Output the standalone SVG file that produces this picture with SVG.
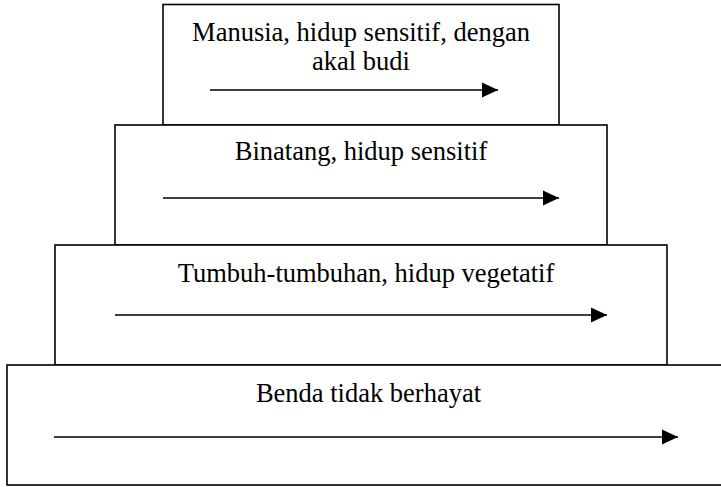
<svg xmlns="http://www.w3.org/2000/svg" width="721" height="487" viewBox="0 0 721 487">
  <defs>
    <marker id="ah" markerUnits="userSpaceOnUse" markerWidth="16" markerHeight="16" viewBox="0 0 16 16" refX="16" refY="8" orient="auto">
      <path d="M0,0.5 L16,8 L0,15.5 Z" fill="#000"/>
    </marker>
    <style>
      .box { fill: #fff; stroke: #000; stroke-width: 1.6; }
      .lbl { font-family: "Liberation Serif", "Times New Roman", serif; font-size: 26.5px; fill: #000; text-anchor: middle; }
      .arr { stroke: #000; stroke-width: 1.6; fill: none; marker-end: url(#ah); }
    </style>
  </defs>
  <rect width="721" height="487" fill="#fff"/>
  <g id="node-manusia">
    <rect class="box" x="163" y="4.5" width="396" height="120.5"/>
    <text class="lbl" x="361" y="40.5">Manusia, hidup sensitif, dengan</text>
    <text class="lbl" x="361" y="70">akal budi</text>
  </g>
  <g id="node-binatang">
    <rect class="box" x="115" y="125" width="492" height="120"/>
    <text class="lbl" x="361" y="160">Binatang, hidup sensitif</text>
  </g>
  <g id="node-tumbuhan">
    <rect class="box" x="55" y="245" width="612" height="120"/>
    <text class="lbl" x="366" y="281.5">Tumbuh-tumbuhan, hidup vegetatif</text>
  </g>
  <g id="node-benda">
    <rect class="box" x="7" y="365" width="720" height="120"/>
    <text class="lbl" x="368.5" y="401.5">Benda tidak berhayat</text>
  </g>
  <g id="connectors">
    <line class="arr" x1="210" y1="90" x2="498" y2="90"/>
    <line class="arr" x1="163" y1="198" x2="559" y2="198"/>
    <line class="arr" x1="115" y1="315" x2="607" y2="315"/>
    <line class="arr" x1="54" y1="437" x2="678" y2="437"/>
  </g>
</svg>
